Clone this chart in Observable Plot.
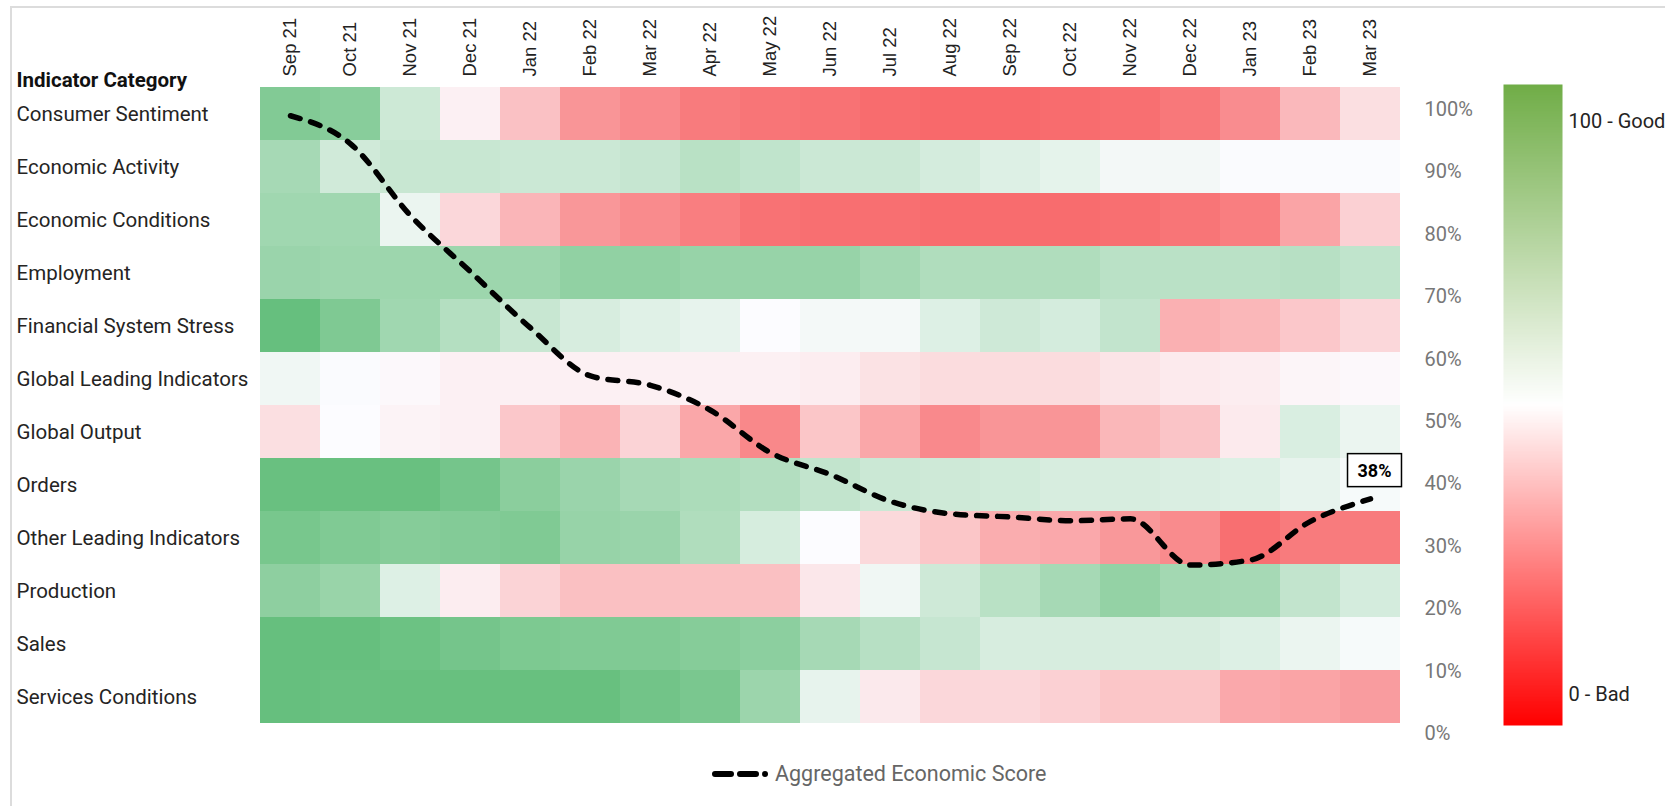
<!DOCTYPE html>
<html>
<head>
<meta charset="utf-8">
<script src="https://cdn.jsdelivr.net/npm/d3@7"></script>
<script src="https://cdn.jsdelivr.net/npm/@observablehq/plot@0.6"></script>
<style>
  body { margin: 0; background: #fff; font-family: Roboto, sans-serif; }
  #wrap { position: relative; width: 1665px; height: 806px; overflow: hidden; background: #fff; }
  #wrap > svg { position: absolute; left: 0; top: 0; max-width: none; }
  #frame { position: absolute; left: 10px; top: 6px; width: 1700px; height: 850px;
           border-top: 2px solid #dcdcdc; border-left: 2px solid #dcdcdc; }
  #legend { position: absolute; left: 711px; top: 761px; display: flex; align-items: center;
            font-size: 21.5px; color: #666; font-family: Roboto, sans-serif; }
  #legend svg { margin-right: 2px; }
</style>
</head>
<body>
<div id="wrap"><div id="frame"></div></div>
<script>
// ---------- data ----------
const months = ["Sep 21","Oct 21","Nov 21","Dec 21","Jan 22","Feb 22","Mar 22","Apr 22","May 22",
  "Jun 22","Jul 22","Aug 22","Sep 22","Oct 22","Nov 22","Dec 22","Jan 23","Feb 23","Mar 23"];

const categories = ["Consumer Sentiment","Economic Activity","Economic Conditions","Employment",
  "Financial System Stress","Global Leading Indicators","Global Output","Orders",
  "Other Leading Indicators","Production","Sales","Services Conditions"];

const consumerSentiment      = [90,88,65.5,46,30,15,11,6,4,3,1,0,0,1,2,5,12,27,40];
const economicActivity       = [78,64.5,67,67,66,66,67.5,72,69.5,66,66,63,60,57.5,53,53,50.5,50.5,50.5];
const economicConditions     = [80,80,55.5,37.5,26,15.5,11.5,7,3,2,2,1,1,1,2,4,7,20,35];
const employment             = [82,81,81,81,81,85,85,83,83,83,79,75,75,75,71.5,71.5,71.5,72.5,69.5];
const financialSystemStress  = [99,91,80,73.5,67,62,59,57,50,52.5,52.5,60,65,63,69,24,26.5,32,37.5];
const globalLeadingIndicators= [54,50.5,48.5,46,46,46,46,46,46,45,41,39,39,39,42,44,45,47.5,48.5];
const globalOutput           = [40,50,47,46,32,25,36,21,10.5,31.5,21,11,15,15,26.5,31,44,61.5,55.5];
const orders                 = [98,98,98,94,87,82,78,76,74,69,66,65,64,62,62,61,60,57,52];
const otherLeadingIndicators = [93,90.5,88.5,89.5,90.5,83,82,75,62.5,50,38,31.5,23,21.5,16,11.5,2,6,6];
const production             = [86,82.5,60,45,36,29.5,29.5,29.5,29.5,43,54,65,72,78,84,79,78,69,63];
const sales                  = [99,99,97,94,91.5,90.5,90.5,88.5,86.5,78,72.5,67.5,62,62,62,62,60,55.5,52];
const servicesConditions     = [99,98,98.5,98.5,98.5,98.5,95,92.5,81.5,57,43.5,37.5,37.5,35,31.5,31.5,21.5,20,17.5];

const rowValues = [consumerSentiment, economicActivity, economicConditions, employment,
  financialSystemStress, globalLeadingIndicators, globalOutput, orders,
  otherLeadingIndicators, production, sales, servicesConditions];

const aggregatedScore = [99,94.5,83,74,65,57.3,55.8,51.8,45,41.5,37.2,35.2,34.7,34.1,34.4,27,27.8,34,37.6];

const pctTicks = [0,10,20,30,40,50,60,70,80,90,100];
const rowTitle = "Indicator Category";
const legendTop = "100 - Good";
const legendBottom = "0 - Bad";
const seriesName = "Aggregated Economic Score";

// ---------- tables ----------
const cells = categories.flatMap((c, i) => rowValues[i].map((v, j) => ({category: c, month: months[j], value: v})));
const scoreData = months.map((m, i) => ({month: m, score: aggregatedScore[i]}));

const W = 1665, H = 806;
const font = "Roboto, sans-serif";
const wrap = document.getElementById("wrap");

// ---------- heatmap ----------
const heat = Plot.plot({
  width: W, height: H,
  marginLeft: 260, marginRight: 265, marginTop: 84, marginBottom: 81,
  style: {fontFamily: font, background: "transparent", overflow: "visible"},
  x: {domain: months, padding: 0, axis: null},
  y: {domain: categories, padding: 0, axis: null},
  color: {type: "linear", domain: [0, 50, 100], range: ["#F8696B", "#FCFCFF", "#63BE7B"], interpolate: "rgb"},
  marks: [
    Plot.cell(cells, {x: "month", y: "category", fill: "value", inset: 0}),
    Plot.axisX({anchor: "top", tickRotate: -90, tickSize: 0, tickPadding: 8, fontSize: 18.5,
      fontFamily: "'Liberation Sans', Arial, sans-serif", color: "#222", label: null}),
    Plot.text(categories, {y: d => d, text: d => d, frameAnchor: "left", textAnchor: "start", dx: -244,
      fontSize: 20.5, fill: "#252423"}),
    Plot.text([rowTitle], {text: d => d, frameAnchor: "top-left", textAnchor: "start", dx: -244, dy: -12,
      fontSize: 20.5, fontWeight: "bold", fill: "#111"})
  ]
});
wrap.appendChild(heat);

// ---------- colour legend ----------
const legendPlot = Plot.plot({
  width: W, height: H,
  marginLeft: 1503, marginRight: 103, marginTop: 84, marginBottom: 81,
  style: {fontFamily: font, background: "transparent", overflow: "visible"},
  x: {domain: [0, 1], axis: null},
  y: {domain: [0, 100], axis: null},
  color: {type: "linear", domain: [0, 50, 100], range: ["#FF0000", "#FFFFFF", "#70AD47"], interpolate: "rgb"},
  marks: [
    Plot.raster({fill: (x, y) => y, x1: 0, x2: 1, y1: 0, y2: 100, width: 1, height: 400, imageRendering: "auto"}),
    Plot.text([legendTop], {text: d => d, frameAnchor: "top-right", textAnchor: "start", dx: 6, dy: 29,
      fontSize: 20, fill: "#252423"}),
    Plot.text([legendBottom], {text: d => d, frameAnchor: "bottom-right", textAnchor: "start", dx: 6, dy: -25,
      fontSize: 20, fill: "#252423"})
  ]
});
wrap.appendChild(legendPlot);

// ---------- aggregated score line ----------
const lineChart = Plot.plot({
  width: W, height: H,
  marginLeft: 260, marginRight: 265, marginTop: 109, marginBottom: 73,
  style: {fontFamily: font, background: "transparent", overflow: "visible"},
  x: {type: "point", domain: months, padding: 0.5, axis: null},
  y: {domain: [0, 100], axis: null},
  marks: [
    Plot.axisY({anchor: "right", ticks: pctTicks, tickFormat: d => d + "%", tickSize: 0, tickPadding: 24,
      fontSize: 20, color: "#777", label: null}),
    Plot.line(scoreData, {x: "month", y: "score", stroke: "#000", strokeWidth: 5.5,
      strokeDasharray: "10,11", strokeLinecap: "round", strokeLinejoin: "round", curve: "monotone-x"}),
    Plot.text(scoreData.slice(-1), {x: "month", y: "score", text: d => Math.round(d.score) + "%",
      dx: 4, dy: -28, fontSize: 18, fontWeight: "bold", fill: "#000", className: "last-label"})
  ]
});
wrap.appendChild(lineChart);

// box behind the last-value label, sized from the rendered text
lineChart.querySelectorAll(".last-label text").forEach(t => {
  const b = t.getBBox();
  const r = document.createElementNS("http://www.w3.org/2000/svg", "rect");
  r.setAttribute("x", b.x - 10); r.setAttribute("y", b.y - 6);
  r.setAttribute("width", b.width + 20); r.setAttribute("height", b.height + 12);
  r.setAttribute("fill", "#fff"); r.setAttribute("stroke", "#000"); r.setAttribute("stroke-width", 1.5);
  const tr = t.getAttribute("transform");
  if (tr) r.setAttribute("transform", tr);
  t.parentNode.insertBefore(r, t);
});

// ---------- series legend ----------
const lg = document.createElement("div");
lg.id = "legend";
lg.innerHTML = `<svg width="62" height="14"><path d="M4 7H20M29 7H45" stroke="#000" stroke-width="6" stroke-linecap="round"/><circle cx="54" cy="7" r="3" fill="#000"/></svg><span></span>`;
lg.querySelector("span").textContent = seriesName;
wrap.appendChild(lg);
</script>
</body>
</html>
